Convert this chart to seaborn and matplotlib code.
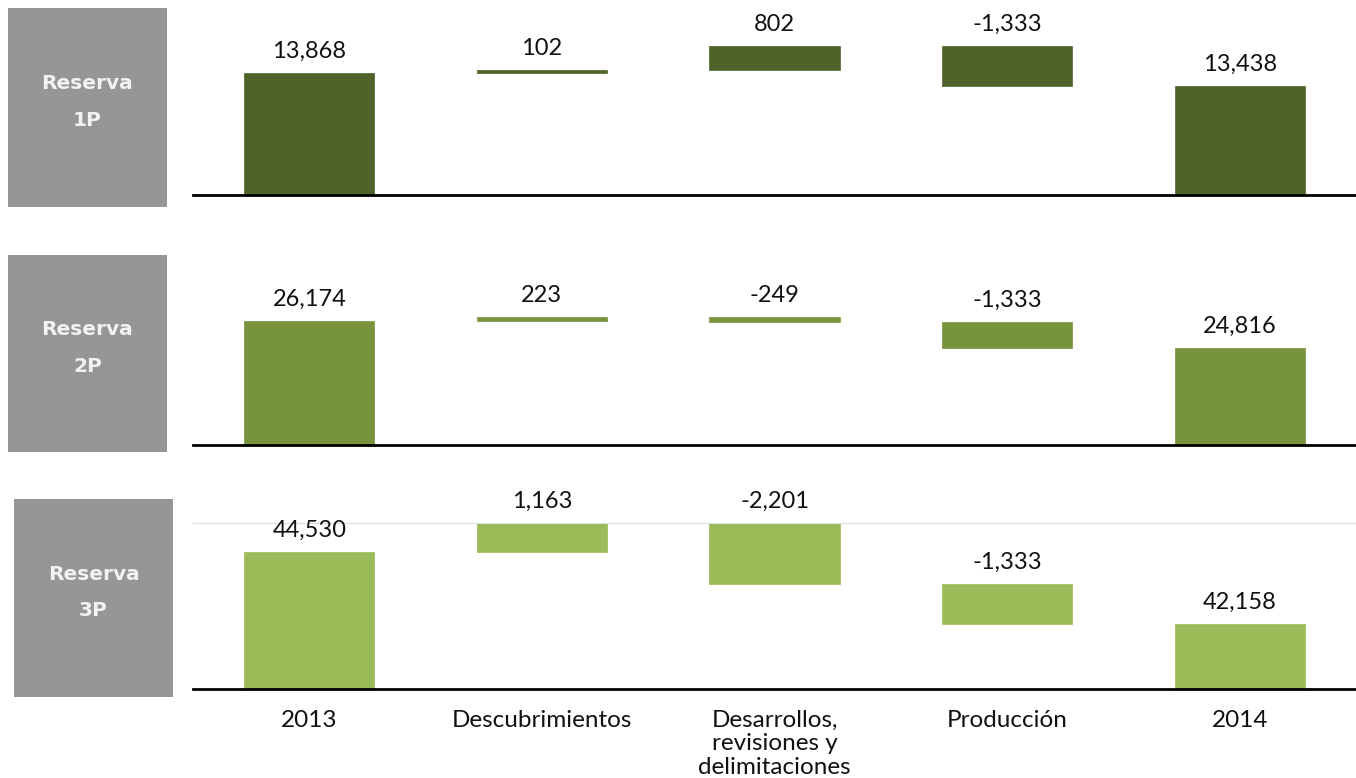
import matplotlib
matplotlib.use("Agg")
import matplotlib.pyplot as plt
import seaborn as sns
from matplotlib.patches import Rectangle

# ---------------- data ----------------
categories = ["2013", "Descubrimientos", "Desarrollos,\nrevisiones y\ndelimitaciones",
              "Producción", "2014"]
panel_titles = ["Reserva", "Reserva", "Reserva"]
panel_codes = ["1P", "2P", "3P"]
values_1p = [13868, 102, 802, -1333, 13438]
values_2p = [26174, 223, -249, -1333, 24816]
values_3p = [44530, 1163, -2201, -1333, 42158]
colors = ["#4F6228", "#77933C", "#9BBB59"]
ylims = [(9832, 15621), (19937, 28740), (40000, 45500)]

# ---------------- layout ----------------
W, H = 1356, 778
sns.set_style("white")
plt.rcParams["font.family"] = ["Lato", "DejaVu Sans"]

fig = plt.figure(figsize=(W / 100, H / 100), dpi=100)

axes_px = [(20, 195), (270, 445), (523, 689)]   # top, bottom in pixels
box_px = [(8, 8, 167, 207), (8, 255, 167, 452), (14, 499, 173, 697)]  # x0,y0,x1,y1
left_px = 193


def waterfall(vals):
    bottoms, heights = [], []
    running = vals[0]
    bottoms.append(0)
    heights.append(vals[0])
    for d in vals[1:-1]:
        bottoms.append(running if d > 0 else running + d)
        heights.append(abs(d))
        running += d
    bottoms.append(0)
    heights.append(vals[-1])
    return bottoms, heights


all_vals = [values_1p, values_2p, values_3p]
for k, vals in enumerate(all_vals):
    top, bot = axes_px[k]
    ax = fig.add_axes([left_px / W, 1 - bot / H, (W - left_px) / W, (bot - top) / H])
    bottoms, heights = waterfall(vals)
    sns.barplot(x=categories, y=heights, ax=ax, color=colors[k], width=0.56,
                saturation=1, errorbar=None)
    for p, b in zip(ax.patches, bottoms):
        p.set_y(b)
        p.set_edgecolor(colors[k])
        p.set_linewidth(0.5)
    ax.set_ylim(*ylims[k])
    ax.set_xlim(-0.5, 4.5)
    ymax = ylims[k][1]
    for i, (v, b, h) in enumerate(zip(vals, bottoms, heights)):
        t = min(b + h, ymax)
        ax.annotate(f"{v:,}", xy=(i, t), xytext=(0, 15.5), textcoords="offset points",
                    ha="center", va="center", fontsize=17, color="#111111",
                    annotation_clip=False)
    for s in ["left", "right", "top"]:
        ax.spines[s].set_visible(False)
    ax.spines["bottom"].set_color("black")
    ax.spines["bottom"].set_linewidth(2.0)
    ax.set_yticks([])
    ax.set_ylabel("")
    ax.tick_params(axis="x", length=0, pad=15, labelsize=17.5, labelcolor="#111111")
    for lbl in ax.get_xticklabels():
        lbl.set_linespacing(1.15)
    if k < 2:
        ax.set_xticklabels([])
    else:
        ax.spines["top"].set_visible(True)
        ax.spines["top"].set_color("#dddddd")
        ax.spines["top"].set_linewidth(0.8)
    ax.patch.set_alpha(0)

    # gray label box
    x0, y0, x1, y1 = box_px[k]
    fig.patches.append(Rectangle((x0 / W, 1 - y1 / H), (x1 - x0) / W, (y1 - y0) / H,
                                 transform=fig.transFigure, facecolor="#969696",
                                 edgecolor="none"))
    cx = (x0 + x1) / 2 / W
    cy = (y0 + y1) / 2
    fig.text(cx, 1 - (cy - 24) / H, panel_titles[k], ha="center", va="center",
             fontsize=14.5, fontweight="bold", color="#f2f2f2", family="DejaVu Sans")
    fig.text(cx, 1 - (cy + 13) / H, panel_codes[k], ha="center", va="center",
             fontsize=14.5, fontweight="bold", color="#f2f2f2", family="DejaVu Sans")

fig.savefig("out.png", dpi=100)
